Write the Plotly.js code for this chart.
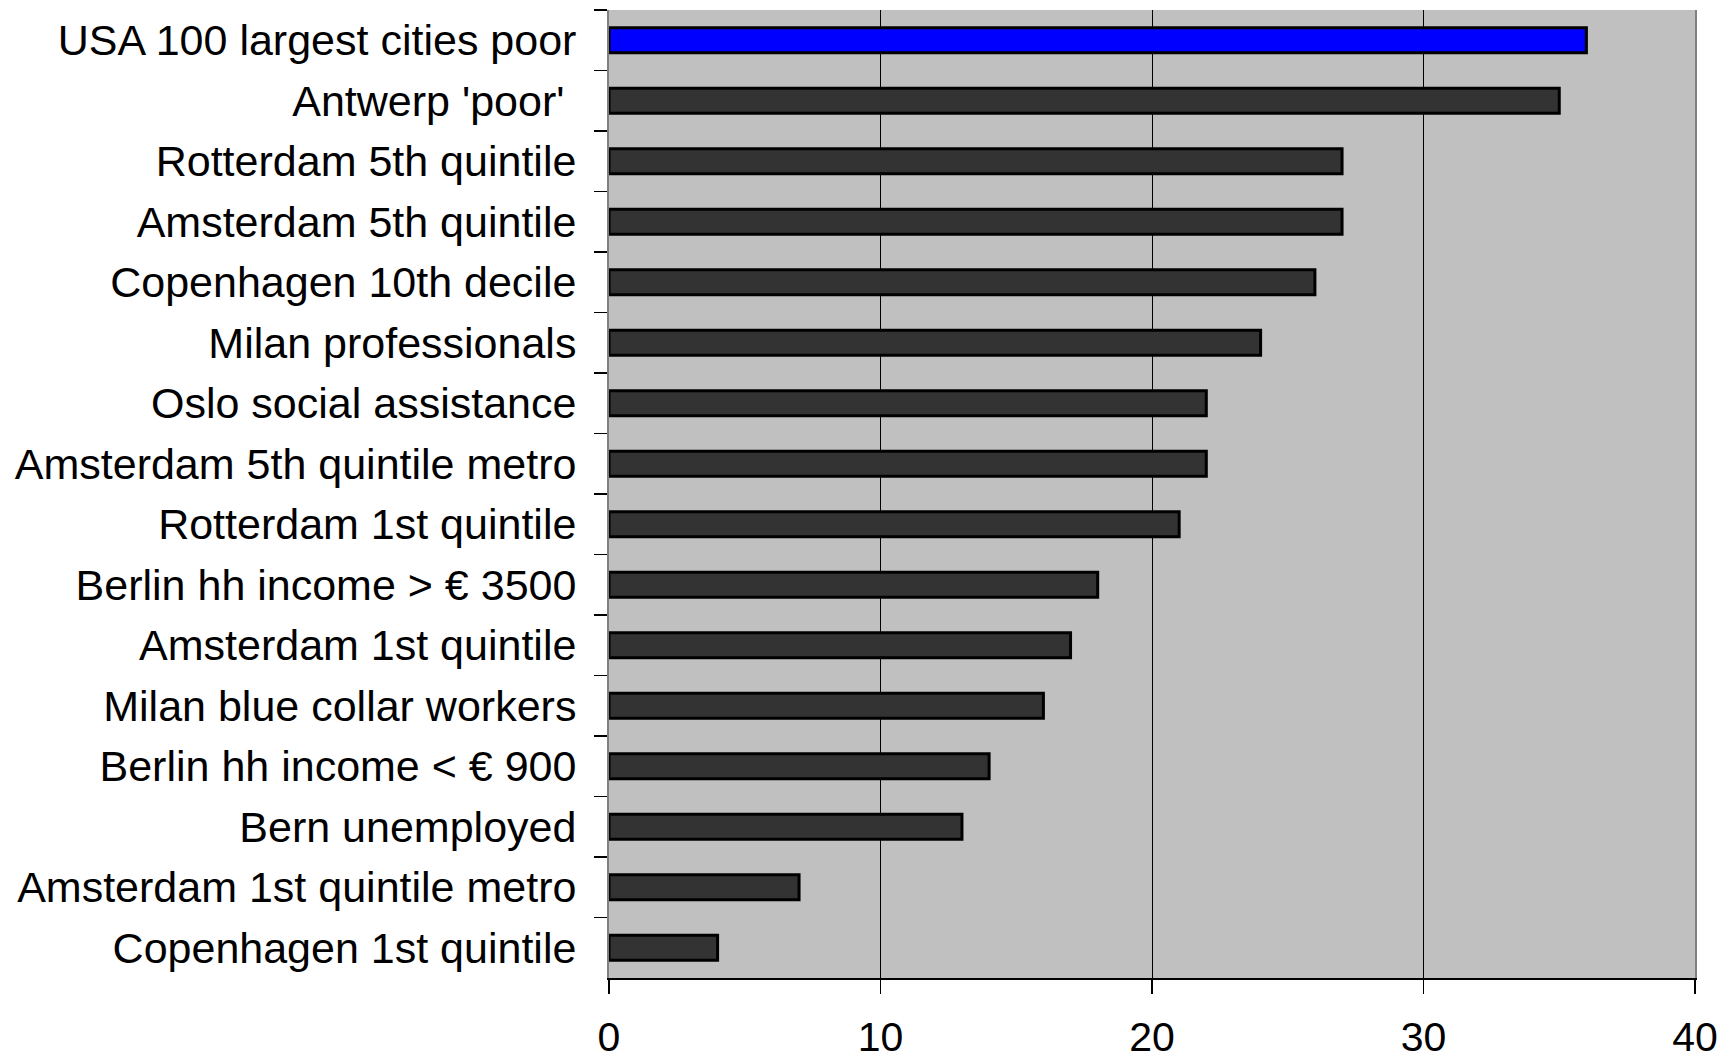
<!DOCTYPE html>
<html>
<head>
<meta charset="utf-8">
<script src="https://cdn.plot.ly/plotly-3.0.1.min.js"></script>
<style>html,body{margin:0;padding:0;background:#fff;}#chart{width:1734px;height:1063px;}</style>
</head>
<body>
<div id="chart"></div>
<script>
const categories = [
  "USA 100 largest cities poor",
  "Antwerp 'poor' ",
  "Rotterdam 5th quintile",
  "Amsterdam 5th quintile",
  "Copenhagen 10th decile",
  "Milan professionals",
  "Oslo social assistance",
  "Amsterdam 5th quintile metro",
  "Rotterdam 1st quintile",
  "Berlin hh income > € 3500",
  "Amsterdam 1st quintile",
  "Milan blue collar workers",
  "Berlin hh income < € 900",
  "Bern unemployed",
  "Amsterdam 1st quintile metro",
  "Copenhagen 1st quintile"
];
const values = [36, 35, 27, 27, 26, 24, 22, 22, 21, 18, 17, 16, 14, 13, 7, 4];
const highlightIndex = 0;
const xTicks = [0, 10, 20, 30, 40];

const colors = values.map((v, i) => i === highlightIndex ? "#0000ff" : "#333333");

const trace = {
  type: "bar",
  orientation: "h",
  y: categories,
  x: values,
  width: 0.41,
  marker: { color: colors, line: { color: "#000000", width: 3 } },
  hoverinfo: "x+y"
};

const font = { family: "Liberation Sans, Arial, sans-serif", size: 43, color: "#000000" };
const xfont = { family: "Liberation Sans, Arial, sans-serif", size: 41, color: "#000000" };

const layout = {
  width: 1734,
  height: 1063,
  margin: { l: 609, r: 39, t: 10, b: 85, pad: 0 },
  paper_bgcolor: "#ffffff",
  plot_bgcolor: "#c0c0c0",
  showlegend: false,
  font: font,
  xaxis: {
    range: [0, 40],
    tickvals: xTicks,
    ticktext: xTicks.map(String),
    showgrid: true,
    gridcolor: "#000000",
    gridwidth: 1,
    zeroline: false,
    showline: true,
    linecolor: "#000000",
    linewidth: 1.5,
    ticks: "outside",
    ticklen: 14,
    tickwidth: 1.5,
    tickcolor: "#000000",
    tickfont: xfont,
    ticklabelstandoff: 8,
    fixedrange: true
  },
  yaxis: {
    type: "category",
    autorange: "reversed",
    showgrid: false,
    zeroline: false,
    showline: true,
    mirror: true,
    linecolor: "#808080",
    linewidth: 2,
    ticks: "outside",
    tickson: "boundaries",
    ticklen: 13,
    tickwidth: 1.5,
    tickcolor: "#000000",
    tickfont: font,
    ticklabelstandoff: 22,
    fixedrange: true
  },
  bargap: 0.59
};

Plotly.newPlot("chart", [trace], layout, { displayModeBar: false, staticPlot: true });
</script>
</body>
</html>
